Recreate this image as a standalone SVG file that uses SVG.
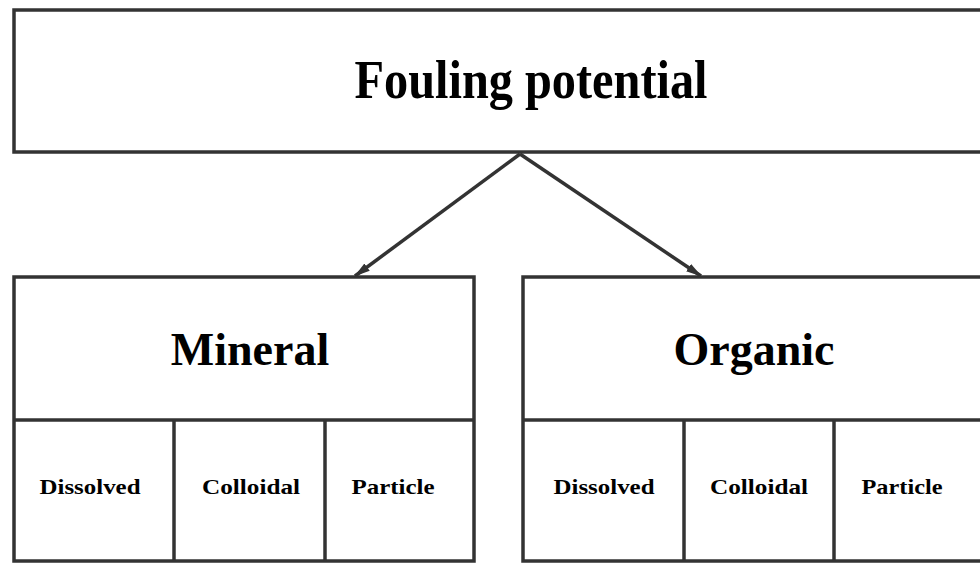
<svg xmlns="http://www.w3.org/2000/svg" width="980" height="563" viewBox="0 0 980 563">
<style>
.box{fill:#fff;stroke:#333;stroke-width:3.5}
.ln{stroke:#333;stroke-width:3.5;fill:none}
.big{font-family:"Liberation Serif","Times New Roman",serif;font-weight:bold;fill:#000}
.small{font-family:"Liberation Serif","Times New Roman",serif;font-weight:bold;font-size:22px;fill:#000}
</style>
<defs>
<marker id="ah" markerWidth="16" markerHeight="12" refX="15" refY="6" orient="auto" markerUnits="userSpaceOnUse">
<path d="M0,1.5 L16,6 L0,10.5 Z" fill="#333"/>
</marker>
</defs>
<rect width="980" height="563" fill="#fff"/>
<g id="top">
<rect class="box" x="14" y="10" width="990" height="142"/>
<text class="big" x="531" y="98" font-size="54" text-anchor="middle" textLength="353" lengthAdjust="spacingAndGlyphs">Fouling  potential</text>
</g>
<g id="connectors">
<line class="ln" x1="520" y1="154" x2="355" y2="276" marker-end="url(#ah)"/>
<line class="ln" x1="520" y1="154" x2="701" y2="276" marker-end="url(#ah)"/>
</g>
<g id="mineral">
<rect class="box" x="14" y="277" width="460" height="284"/>
<line class="ln" x1="14" y1="420" x2="474" y2="420"/>
<line class="ln" x1="174" y1="420" x2="174" y2="561"/>
<line class="ln" x1="325" y1="420" x2="325" y2="561"/>
<text class="big" x="250" y="365" font-size="46" text-anchor="middle">Mineral</text>
<text class="small" x="90" y="494" text-anchor="middle" textLength="101" lengthAdjust="spacingAndGlyphs">Dissolved</text>
<text class="small" x="251" y="494" text-anchor="middle" textLength="98" lengthAdjust="spacingAndGlyphs">Colloidal</text>
<text class="small" x="393" y="494" text-anchor="middle" textLength="83" lengthAdjust="spacingAndGlyphs">Particle</text>
</g>
<g id="organic">
<rect class="box" x="523" y="277" width="480" height="284"/>
<line class="ln" x1="523" y1="420" x2="1003" y2="420"/>
<line class="ln" x1="684" y1="420" x2="684" y2="561"/>
<line class="ln" x1="834" y1="420" x2="834" y2="561"/>
<text class="big" x="754" y="365" font-size="46" text-anchor="middle">Organic</text>
<text class="small" x="604" y="494" text-anchor="middle" textLength="101" lengthAdjust="spacingAndGlyphs">Dissolved</text>
<text class="small" x="759" y="494" text-anchor="middle" textLength="98" lengthAdjust="spacingAndGlyphs">Colloidal</text>
<text class="small" x="902" y="494" text-anchor="middle" textLength="81" lengthAdjust="spacingAndGlyphs">Particle</text>
</g>
</svg>
